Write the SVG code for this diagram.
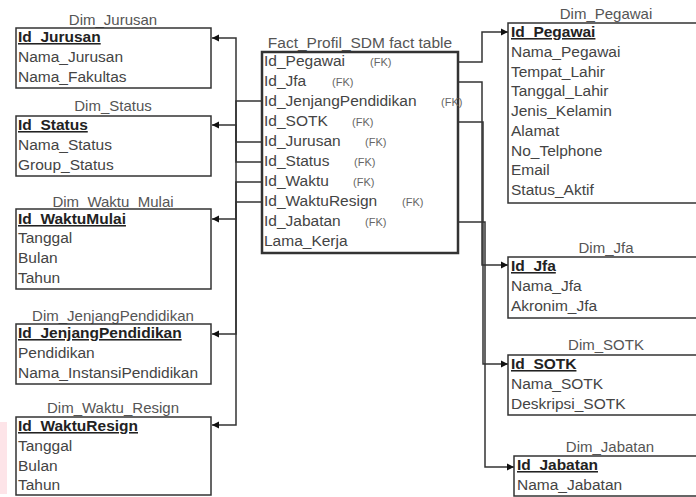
<svg xmlns="http://www.w3.org/2000/svg" width="696" height="497" viewBox="0 0 696 497">
  <style>
    text { font-family: "Liberation Sans", Arial, sans-serif; font-size: 15.5px; fill: #444; }
    .title { text-anchor: middle; fill: #555; font-size: 15px; }
    .facttitle { font-size: 15.5px; }
    .pk { font-weight: bold; fill: #222; text-decoration: underline; }
    .fk { font-size: 11px; fill: #666; }
    .box { fill: #fff; stroke: #333; stroke-width: 1.5; }
    .fact { fill: #fff; stroke: #333; stroke-width: 2.5; }
    .link { fill: none; stroke: #333; stroke-width: 1.5; }
  </style>
  <defs>
    <marker id="arrow" viewBox="0 0 10 10" refX="10" refY="5" markerWidth="7" markerHeight="8" markerUnits="userSpaceOnUse" orient="auto">
      <path d="M0,0 L10,5 L0,10 Z" fill="#111"/>
    </marker>
  </defs>
  <rect width="696" height="497" fill="#fff"/>
  <rect x="0" y="422" width="7" height="72" fill="#fde4e8"/>

  <!-- connectors -->
  <g id="connectors">
    <path class="link" d="M262,101 H236 V334 H212" marker-end="url(#arrow)"/>
    <path class="link" d="M262,142 H236 V38 H212" marker-end="url(#arrow)"/>
    <path class="link" d="M262,162 H236 V125 H212" marker-end="url(#arrow)"/>
    <path class="link" d="M262,182 H236 V219 H212" marker-end="url(#arrow)"/>
    <path class="link" d="M262,202 H236 V425 H212" marker-end="url(#arrow)"/>
    <path class="link" d="M458,62 H482 V32 H508" marker-end="url(#arrow)"/>
    <path class="link" d="M458,82 H482 V265 H508" marker-end="url(#arrow)"/>
    <path class="link" d="M458,122 H483 V364 H508" marker-end="url(#arrow)"/>
    <path class="link" d="M458,222 H485 V467 H514" marker-end="url(#arrow)"/>
  </g>

  <!-- left dimensions -->
  <g id="dim_jurusan">
    <text class="title" x="113" y="25">Dim_Jurusan</text>
    <rect class="box" x="16" y="28" width="195" height="60"/>
    <text class="pk" x="18" y="42">Id_Jurusan</text>
    <text x="18" y="62">Nama_Jurusan</text>
    <text x="18" y="82">Nama_Fakultas</text>
  </g>
  <g id="dim_status">
    <text class="title" x="113" y="111">Dim_Status</text>
    <rect class="box" x="16" y="116" width="195" height="60"/>
    <text class="pk" x="18" y="130">Id_Status</text>
    <text x="18" y="150">Nama_Status</text>
    <text x="18" y="170">Group_Status</text>
  </g>
  <g id="dim_waktu_mulai">
    <text class="title" x="113" y="207">Dim_Waktu_Mulai</text>
    <rect class="box" x="16" y="209" width="195" height="80"/>
    <text class="pk" x="18" y="224">Id_WaktuMulai</text>
    <text x="18" y="243">Tanggal</text>
    <text x="18" y="263">Bulan</text>
    <text x="18" y="283">Tahun</text>
  </g>
  <g id="dim_jenjangpendidikan">
    <text class="title" x="113" y="321">Dim_JenjangPendidikan</text>
    <rect class="box" x="16" y="324" width="195" height="60"/>
    <text class="pk" x="18" y="338">Id_JenjangPendidikan</text>
    <text x="18" y="358">Pendidikan</text>
    <text x="18" y="378">Nama_InstansiPendidikan</text>
  </g>
  <g id="dim_waktu_resign">
    <text class="title" x="113" y="413">Dim_Waktu_Resign</text>
    <rect class="box" x="16" y="417" width="195" height="78"/>
    <text class="pk" x="18" y="431">Id_WaktuResign</text>
    <text x="18" y="451">Tanggal</text>
    <text x="18" y="471">Bulan</text>
    <text x="18" y="490">Tahun</text>
  </g>

  <!-- fact table -->
  <g id="fact_profil_sdm">
    <text class="title facttitle" x="360" y="48">Fact_Profil_SDM fact table</text>
    <rect class="fact" x="262" y="52" width="196" height="201"/>
    <text x="264" y="66">Id_Pegawai</text><text class="fk" x="370" y="66">(FK)</text>
    <text x="264" y="86">Id_Jfa</text><text class="fk" x="332" y="86">(FK)</text>
    <text x="264" y="106">Id_JenjangPendidikan</text><text class="fk" x="441" y="106">(FK)</text>
    <text x="264" y="126">Id_SOTK</text><text class="fk" x="352" y="126">(FK)</text>
    <text x="264" y="146">Id_Jurusan</text><text class="fk" x="365" y="146">(FK)</text>
    <text x="264" y="166">Id_Status</text><text class="fk" x="354" y="166">(FK)</text>
    <text x="264" y="186">Id_Waktu</text><text class="fk" x="353" y="186">(FK)</text>
    <text x="264" y="206">Id_WaktuResign</text><text class="fk" x="402" y="206">(FK)</text>
    <text x="264" y="226">Id_Jabatan</text><text class="fk" x="365" y="226">(FK)</text>
    <text x="264" y="246">Lama_Kerja</text>
  </g>

  <!-- right dimensions -->
  <g id="dim_pegawai">
    <text class="title" x="606" y="19">Dim_Pegawai</text>
    <rect class="box" x="508" y="23" width="200" height="180"/>
    <text class="pk" x="511" y="37">Id_Pegawai</text>
    <text x="511" y="57">Nama_Pegawai</text>
    <text x="511" y="76.5">Tempat_Lahir</text>
    <text x="511" y="96">Tanggal_Lahir</text>
    <text x="511" y="116">Jenis_Kelamin</text>
    <text x="511" y="136">Alamat</text>
    <text x="511" y="155.5">No_Telphone</text>
    <text x="511" y="175">Email</text>
    <text x="511" y="195">Status_Aktif</text>
  </g>
  <g id="dim_jfa">
    <text class="title" x="606" y="253">Dim_Jfa</text>
    <rect class="box" x="508" y="257" width="200" height="61"/>
    <text class="pk" x="511" y="271">Id_Jfa</text>
    <text x="511" y="291">Nama_Jfa</text>
    <text x="511" y="311">Akronim_Jfa</text>
  </g>
  <g id="dim_sotk">
    <text class="title" x="606" y="350">Dim_SOTK</text>
    <rect class="box" x="508" y="355" width="200" height="60"/>
    <text class="pk" x="511" y="369">Id_SOTK</text>
    <text x="511" y="389">Nama_SOTK</text>
    <text x="511" y="409">Deskripsi_SOTK</text>
  </g>
  <g id="dim_jabatan">
    <text class="title" x="610" y="452">Dim_Jabatan</text>
    <rect class="box" x="514" y="456" width="200" height="40"/>
    <text class="pk" x="517" y="470">Id_Jabatan</text>
    <text x="517" y="490">Nama_Jabatan</text>
  </g>
</svg>
